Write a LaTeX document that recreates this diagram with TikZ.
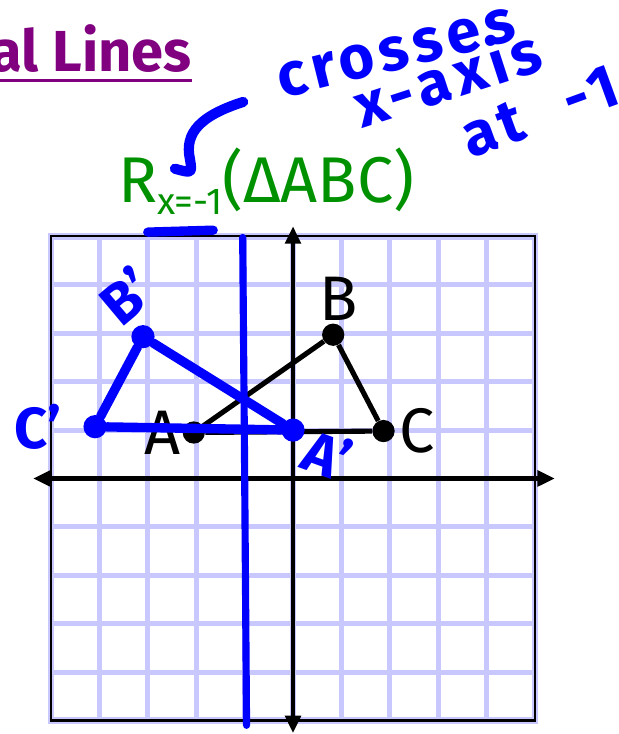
\documentclass[tikz,border=0pt]{standalone}
\usepackage{fontspec}
\setmainfont{Fira Sans}
\newfontfamily\handfont[LetterSpace=9]{Fira Sans}
\usepackage{tikz}
\usetikzlibrary{positioning, arrows.meta}
\definecolor{gridblue}{RGB}{200,200,255}
\definecolor{titlepurple}{RGB}{128,0,128}
\definecolor{rulegreen}{RGB}{0,145,0}
\definecolor{penblue}{RGB}{0,0,255}

\begin{document}
\begin{tikzpicture}[
        node distance=0.1cm and 0.1cm,
        gridline/.style={draw=gridblue, line width=3pt},
        axis/.style={{Triangle[length=0.36cm,width=0.32cm]}-{Triangle[length=0.36cm,width=0.32cm]}, line width=2.4pt},
        dot/.style={circle, fill=black, inner sep=0pt, minimum size=0.46cm},
        blob/.style={circle, fill=penblue, inner sep=0pt, minimum size=0.48cm},
        side/.style={line width=3pt},
        pen/.style={draw=penblue, line width=5.5pt, line cap=round, line join=round},
        lbl/.style={font=\fontsize{37}{40}\selectfont, inner sep=1pt},
        penlbl/.style={font=\fontsize{34}{38}\selectfont\bfseries, text=penblue, inner sep=1pt},
        note/.style={font=\handfont\fontsize{36}{40}\selectfont\bfseries, text=penblue, inner sep=0pt, anchor=west, rotate=16}
    ]
    \useasboundingbox (-6.054,-5.279) rectangle (6.715,9.886);

    % Title
    \node[font=\fontsize{34}{40}\selectfont\bfseries, text=titlepurple, anchor=base west, inner sep=0pt] (title) at (-6.26,8.40) {al Lines};
    \draw[titlepurple, line width=1.8pt] ([yshift=-5pt]title.base west) -- ([yshift=-5pt]title.base east);

    % Rule
    \node[font=\fontsize{38}{42}\selectfont, text=rulegreen, anchor=base west, inner sep=0pt] (rule) at (-3.62,5.71) {R\raisebox{-7.5pt}{\fontsize{22}{24}\selectfont x=-1}(ΔABC)};

    % Grid and axes
    \draw[gridline] (-5,-5) grid (5,5);
    \draw[gridblue, line width=4pt] (-5,-5) rectangle (5,5);
    \draw[line width=1.2pt] (-5,-5) rectangle (5,5);
    \draw[axis] (-5.37,0) -- (5.41,0);
    \draw[axis] (0,-5.26) -- (0,5.21);

    % Triangle ABC
    \node[dot] (A) at (-2.05,0.95) {};
    \node[dot] (B) at (0.83,2.97) {};
    \node[dot] (C) at (1.87,0.98) {};
    \draw[side] (A) -- (B) -- (C) -- (A);
    \node[lbl, left=0pt of A] (labelA) {A};
    \node[lbl, above=0.02cm of B, xshift=3pt] (labelB) {B};
    \node[lbl, right=0.05cm of C] (labelC) {C};

    % Line x=-1
    \coordinate (mirtop) at (-1.04,4.98);
    \coordinate (mirbot) at (-0.96,-5.1);
    \draw[pen, line width=4.2pt] (mirtop) -- (-1.0,0.2) -- (mirbot);

    % Image A'B'C'
    \node[blob] (Bp) at (-3.1,2.93) {};
    \node[blob] (Cp) at (-4.09,1.07) {};
    \node[blob] (Ap) at (0.0,1.0) {};
    \draw[pen] (Cp) -- (Bp) -- (Ap) -- (Cp);
    \node[penlbl, rotate=40] (labelBp) at ([shift={(-0.35,0.85)}]Bp) {B'};
    \node[penlbl, left=0.4cm of Cp] (labelCp) {C'};
    \node[penlbl, rotate=-20] (labelAp) at ([shift={(0.72,-0.5)}]Ap) {A'};

    % Notes
    \node[note, rotate=-2] (crosses) at (-0.31,8.18) {crosses};
    \node[note, rotate=2] (xaxis) at (1.28,7.70) {x-axis};
    \node[note, rotate=4] (atminus) at (3.51,7.0) {a\hspace{0.08em}t\hspace{0.75em}-1};
    \coordinate (hooktail) at (-1.03,7.78);
    \coordinate (hookend) at (-2.44,6.40);
    \draw[pen, line width=6pt] (hooktail) .. controls (-1.9,7.5) and (-2.25,7.15) .. (-2.13,6.6) .. controls (-2.08,6.3) .. (hookend);
    \coordinate (barleft) at (-3.0,5.09);
    \coordinate (barright) at (-1.65,5.13);
    \draw[pen] (barleft) -- (barright);

    \end{tikzpicture}
\end{document}
